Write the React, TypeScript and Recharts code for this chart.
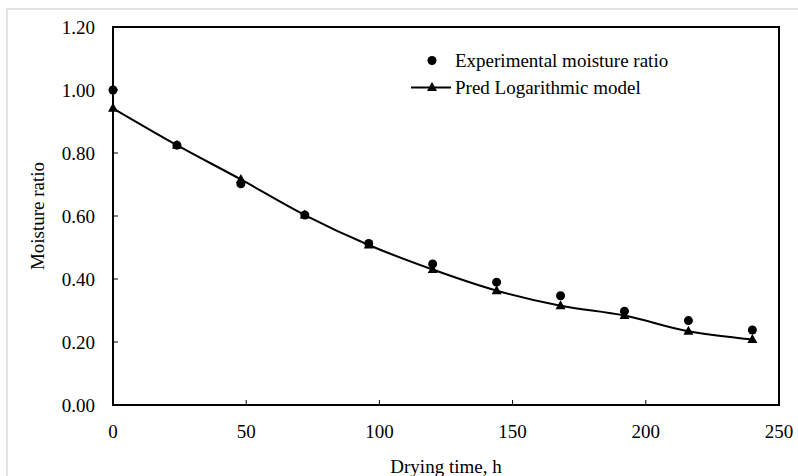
import React from "react";
import {
    ComposedChart, Line, XAxis, YAxis, Legend, ReferenceArea, Label
} from "recharts";

const hours = [0, 24, 48, 72, 96, 120, 144, 168, 192, 216, 240];
const experimental = [1.0, 0.825, 0.702, 0.603, 0.513, 0.448, 0.39, 0.347, 0.298, 0.268, 0.238];
const predicted = [0.942, 0.825, 0.716, 0.603, 0.508, 0.43, 0.363, 0.315, 0.284, 0.234, 0.208];
const xTicks = [0, 50, 100, 150, 200, 250];
const yTicks = [0, 0.2, 0.4, 0.6, 0.8, 1.0, 1.2];

const FONT = '"Liberation Serif", "Times New Roman", serif';

const data = hours.map((h, i) => ({ hours: h, exp: experimental[i], pred: predicted[i] }));

function CircleDot(props: any) {
    const { cx, cy } = props;
    if (cx == null || cy == null) return null;
    return <circle cx={cx} cy={cy} r={4.5} fill="#000" />;
}

function TriangleDot(props: any) {
    const { cx, cy } = props;
    if (cx == null || cy == null) return null;
    return <path d={`M${cx},${cy - 5.5} L${cx + 5},${cy + 3.5} L${cx - 5},${cy + 3.5} Z`} fill="#000" />;
}

function LegendBox() {
    const row: React.CSSProperties = { display: "flex", alignItems: "center", height: 27, fontFamily: FONT, fontSize: 19, color: "#000" };
    return (
        <div>
            <div style={row}>
                <svg width={46} height={27}>
                    <circle cx={26} cy={13.5} r={4.5} fill="#000" />
                </svg>
                <span style={{ marginLeft: 3 }}>Experimental moisture ratio</span>
            </div>
            <div style={row}>
                <svg width={46} height={27}>
                    <line x1={5} y1={13.5} x2={45} y2={13.5} stroke="#000" strokeWidth={2} />
                    <path d="M26,8 L31,17 L21,17 Z" fill="#000" />
                </svg>
                <span style={{ marginLeft: 3 }}>Pred Logarithmic model</span>
            </div>
        </div>
    );
}

function YTitle(props: any) {
    const vb = props.viewBox || { x: 0, y: 0, width: 0, height: 0 };
    const x = vb.x + 24;
    const y = vb.y + vb.height / 2;
    return (
        <text x={x} y={y} transform={`rotate(-90, ${x}, ${y})`} textAnchor="middle" dominantBaseline="central"
            style={{ fontFamily: FONT, fontSize: 19, fill: "#000" }}>
            Moisture ratio
        </text>
    );
}

export default function App() {
    const tickStyle = { fill: "#000", fontSize: 19, fontFamily: FONT };
    return (
        <div style={{ position: "fixed", left: 0, top: 0, width: 798, height: 476, background: "#fff", overflow: "hidden" }}>
            <div style={{ position: "absolute", left: 6, top: 8, width: 900, height: 600, borderTop: "2px solid #e3e3e3", borderLeft: "2px solid #e3e3e3" }} />
            <div style={{ position: "absolute", left: 0, top: 0 }}>
                <ComposedChart width={798} height={476} data={data} margin={{ top: 27, right: 19, left: 13, bottom: 0 }}>
                    <XAxis dataKey="hours" type="number" domain={[0, 250]} ticks={xTicks} height={71}
                        axisLine={false} tickSize={-5} tickMargin={25} tickLine={{ stroke: "#000" }} tick={tickStyle}
                        interval={0}>
                        <Label value="Drying time, h" position="insideBottom" offset={3}
                            style={{ fontFamily: FONT, fontSize: 19, fill: "#000" }} />
                    </XAxis>
                    <YAxis type="number" domain={[0, 1.2]} ticks={yTicks} width={100}
                        axisLine={false} tickSize={-5} tickMargin={23} tickLine={{ stroke: "#000" }} tick={tickStyle}
                        tickFormatter={(v: number) => v.toFixed(2)} interval={0}>
                        <Label content={<YTitle />} />
                    </YAxis>
                    <ReferenceArea x1={0} x2={250} y1={0} y2={1.2} fill="none" stroke="#000" strokeWidth={2} ifOverflow="visible" />
                    <Legend content={<LegendBox />} layout="horizontal" verticalAlign="middle" align="center"
                        wrapperStyle={{ top: 47, left: 406, width: 320 }} />
                    <Line dataKey="pred" type="monotone" stroke="#000" strokeWidth={2} dot={<TriangleDot />} isAnimationActive={false} />
                    <Line dataKey="exp" stroke="none" dot={<CircleDot />} activeDot={false} isAnimationActive={false} />
                </ComposedChart>
            </div>
        </div>
    );
}
